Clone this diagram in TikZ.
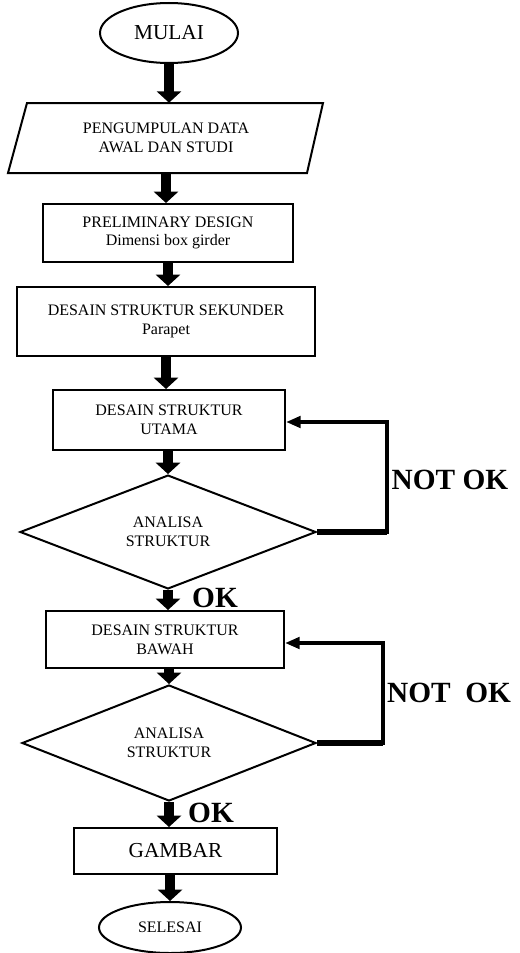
\documentclass[tikz,border=0pt]{standalone}
\usepackage{fontspec}
\setmainfont{Liberation Serif}
\usetikzlibrary{arrows.meta,shapes.geometric}
\begin{document}
\begin{tikzpicture}[x=0.75pt,y=-0.75pt,
  box/.style={draw, line width=1.5pt, rectangle, align=center, inner sep=0pt, font=\fontsize{12}{14}\selectfont},
  oval/.style={draw, line width=1.5pt, ellipse, inner sep=0pt},
  dia/.style={draw, line width=1.5pt, diamond, inner sep=0pt, align=center, font=\fontsize{12}{14}\selectfont},
  fat/.style={line width=7.5pt, -{Triangle[width=18pt,length=8.5pt]}},
  back/.style={line width=3pt, -{Triangle[width=8.5pt,length=11pt]}},
  lbl/.style={font=\bfseries\fontsize{22}{26}\selectfont, inner sep=0pt}
]
\useasboundingbox (0,0) rectangle (520,953);

% nodes
\node[oval, minimum width=138*0.75pt, minimum height=60*0.75pt, font=\fontsize{16}{18}\selectfont] (mulai) at (169,33) {MULAI};

\node[inner sep=0pt, align=center, minimum height=70*0.75pt, font=\fontsize{12}{14}\selectfont] (data) at (166,138) {PENGUMPULAN DATA\\AWAL DAN STUDI};
\draw[line width=1.5pt] (27,103) -- (323,103) -- (307,173) -- (8,173) -- cycle;

\node[box, minimum width=250*0.75pt, minimum height=58*0.75pt] (prelim) at (168,233) {PRELIMINARY DESIGN\\Dimensi box girder};
\node[box, minimum width=298*0.75pt, minimum height=69*0.75pt] (sekunder) at (166,321.5) {DESAIN STRUKTUR SEKUNDER\\Parapet};
\node[box, minimum width=232*0.75pt, minimum height=60*0.75pt] (utama) at (169,420) {DESAIN STRUKTUR\\UTAMA};
\node[dia, minimum width=296*0.75pt, minimum height=108*0.75pt] (d1) at (168,532) {ANALISA\\STRUKTUR};
\node[box, minimum width=238*0.75pt, minimum height=57*0.75pt] (bawah) at (165,639.5) {DESAIN STRUKTUR\\BAWAH};
\node[dia, minimum width=294*0.75pt, minimum height=116*0.75pt] (d2) at (169,743) {ANALISA\\STRUKTUR};
\node[box, minimum width=203*0.75pt, minimum height=46*0.75pt, font=\fontsize{16}{18}\selectfont] (gambar) at (175.5,851) {GAMBAR};
\node[oval, minimum width=142*0.75pt, minimum height=51*0.75pt, font=\fontsize{12}{14}\selectfont] (selesai) at (170,927.5) {SELESAI};

% labels
\node[lbl] (nok1) at (450,480) {NOT OK};
\node[lbl] (ok1) at (215,598) {OK};
\node[lbl] (nok2) at (449,693) {NOT\ \ OK};
\node[lbl] (ok2) at (211,813) {OK};

% main arrows
\draw[fat] (mulai.south) -- (mulai.south |- data.north);
\draw[fat] (data.south) -- (data.south |- prelim.north);
\draw[fat] (prelim.south) -- (prelim.south |- sekunder.north);
\draw[fat] (sekunder.south) -- (sekunder.south |- utama.north);
\draw[fat] (utama.south -| d1.north) -- (d1.north);
\draw[fat] (d1.south) -- (d1.south |- bawah.north);
\draw[fat] (bawah.south -| d2.north) -- (d2.north);
\draw[fat] (d2.south) -- (d2.south |- gambar.north);
\draw[fat] (gambar.south -| selesai.north) -- (selesai.north);

% feedback loops
\coordinate (l1) at (387,422);
\coordinate (l2) at (383,643);
\draw[line width=4.5pt] (d1.east) -- (d1.east -| l1);
\draw[back] (d1.east) -- (d1.east -| l1) -- (l1) -- (utama.east |- l1);
\draw[line width=4.5pt] (d2.east) -- (d2.east -| l2);
\draw[back] (d2.east) -- (d2.east -| l2) -- (l2) -- (bawah.east |- l2);
\end{tikzpicture}
\end{document}
